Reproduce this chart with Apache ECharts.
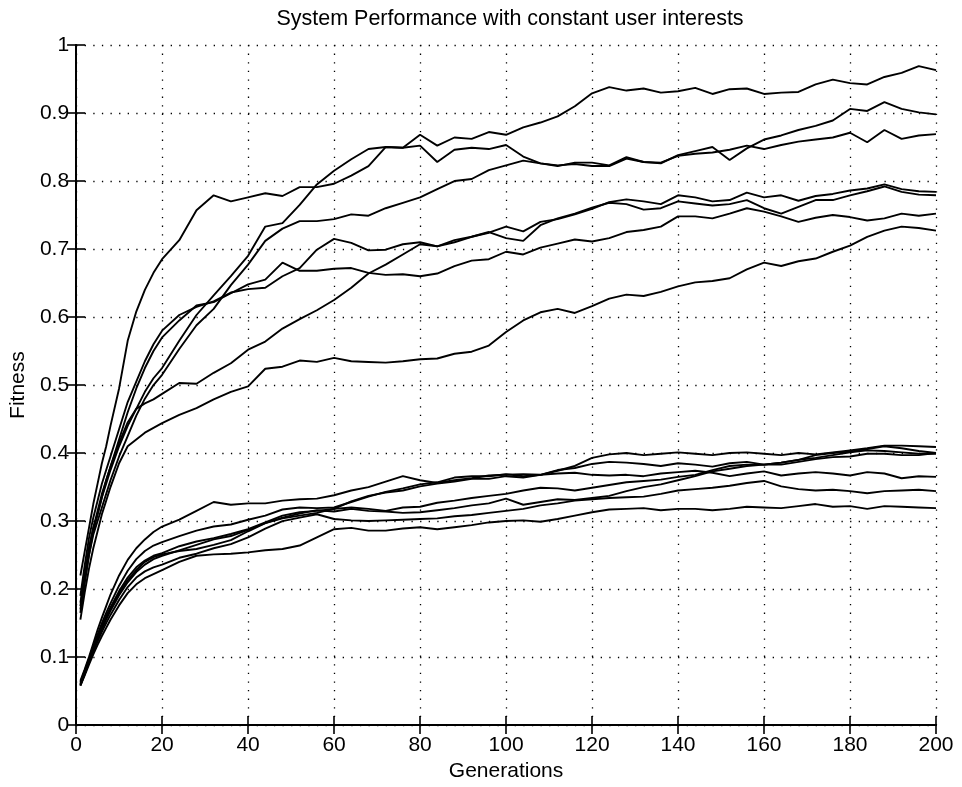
<!DOCTYPE html>
<html>
<head>
<meta charset="utf-8">
<script src="https://cdn.jsdelivr.net/npm/echarts@6/dist/echarts.min.js"></script>
<style>
html,body{margin:0;padding:0;background:#fff;}
#chart{width:962px;height:787px;}
</style>
</head>
<body>
<div id="chart"></div>
<script>
// Generations sampled along the x axis
var gens = [1,2,3,4,5,6,7,8,10,12,14,16,18,
  20,24,28,32,36,40,44,48,52,56,
  60,64,68,72,76,80,84,88,92,96,
  100,104,108,112,116,120,124,128,132,136,
  140,144,148,152,156,160,164,168,172,176,
  180,184,188,192,196,200];

// Upper group of runs
var runA = [0.22,0.255,0.29,0.325,0.355,0.385,0.41,0.44,0.495,0.565,0.608,0.64,0.665,
  0.685,0.713,0.757,0.779,0.77,0.776,0.782,0.778,0.791,0.791,
  0.796,0.808,0.822,0.85,0.849,0.852,0.828,0.846,0.849,0.847,
  0.853,0.836,0.826,0.822,0.827,0.827,0.823,0.835,0.828,0.826,
  0.838,0.844,0.85,0.831,0.848,0.861,0.867,0.875,0.881,0.889,
  0.906,0.903,0.916,0.906,0.901,0.898];
var runT = [0.18,0.22,0.26,0.29,0.31,0.335,0.355,0.375,0.41,0.44,0.465,0.49,0.51,
  0.525,0.565,0.603,0.632,0.66,0.69,0.733,0.738,0.765,0.795,
  0.815,0.832,0.847,0.85,0.849,0.868,0.852,0.864,0.862,0.872,
  0.868,0.879,0.886,0.895,0.91,0.929,0.938,0.933,0.936,0.93,
  0.932,0.937,0.928,0.935,0.936,0.928,0.93,0.931,0.942,0.949,
  0.944,0.942,0.953,0.959,0.969,0.963];
var runS3 = [0.17,0.21,0.25,0.28,0.3,0.32,0.34,0.36,0.395,0.425,0.455,0.48,0.5,
  0.515,0.553,0.588,0.612,0.647,0.677,0.712,0.73,0.741,0.741,
  0.744,0.751,0.749,0.76,0.768,0.776,0.788,0.8,0.803,0.816,
  0.823,0.83,0.826,0.823,0.825,0.822,0.822,0.833,0.828,0.827,
  0.837,0.84,0.842,0.846,0.852,0.847,0.853,0.858,0.861,0.864,
  0.871,0.857,0.875,0.862,0.867,0.869];
var runS4a = [0.19,0.235,0.275,0.305,0.33,0.355,0.375,0.395,0.435,0.475,0.505,0.535,0.56,
  0.58,0.603,0.615,0.623,0.636,0.641,0.643,0.66,0.672,0.699,
  0.715,0.709,0.698,0.699,0.707,0.71,0.704,0.71,0.718,0.724,
  0.733,0.726,0.74,0.744,0.751,0.759,0.769,0.773,0.77,0.766,
  0.779,0.776,0.77,0.772,0.783,0.776,0.779,0.771,0.778,0.781,
  0.786,0.789,0.795,0.788,0.785,0.784];
var runS4b = [0.175,0.22,0.26,0.29,0.315,0.34,0.36,0.38,0.42,0.46,0.495,0.525,0.55,
  0.57,0.595,0.617,0.622,0.635,0.648,0.655,0.68,0.668,0.668,
  0.671,0.672,0.665,0.662,0.663,0.66,0.664,0.675,0.683,0.685,
  0.696,0.692,0.702,0.708,0.714,0.711,0.716,0.725,0.728,0.733,
  0.748,0.748,0.745,0.752,0.76,0.755,0.748,0.74,0.746,0.75,
  0.747,0.742,0.745,0.752,0.749,0.752];
var runS5 = [0.165,0.21,0.25,0.285,0.31,0.335,0.36,0.38,0.415,0.445,0.465,0.473,0.479,
  0.487,0.503,0.502,0.518,0.532,0.552,0.564,0.583,0.597,0.61,
  0.625,0.643,0.664,0.677,0.692,0.707,0.704,0.713,0.718,0.725,
  0.716,0.712,0.735,0.745,0.752,0.761,0.768,0.766,0.758,0.76,
  0.77,0.767,0.764,0.766,0.772,0.76,0.752,0.762,0.772,0.772,
  0.779,0.785,0.792,0.784,0.78,0.779];
var runF = [0.155,0.195,0.23,0.26,0.285,0.31,0.33,0.35,0.385,0.41,0.42,0.43,0.437,
  0.444,0.456,0.466,0.479,0.49,0.498,0.524,0.527,0.536,0.534,
  0.54,0.535,0.534,0.533,0.535,0.538,0.539,0.546,0.549,0.558,
  0.578,0.595,0.607,0.612,0.606,0.616,0.627,0.633,0.631,0.637,
  0.645,0.651,0.653,0.657,0.67,0.68,0.675,0.682,0.686,0.696,
  0.705,0.718,0.727,0.733,0.731,0.727];

// Lower group of runs
var runL1 = [0.065,0.082,0.1,0.12,0.14,0.158,0.175,0.192,0.22,0.243,0.26,0.273,0.284,
  0.292,0.302,0.315,0.328,0.324,0.326,0.326,0.33,0.332,0.333,
  0.338,0.345,0.35,0.358,0.366,0.36,0.356,0.36,0.363,0.367,
  0.368,0.369,0.368,0.374,0.381,0.393,0.398,0.4,0.397,0.399,
  0.401,0.399,0.397,0.4,0.401,0.399,0.397,0.4,0.398,0.401,
  0.404,0.407,0.411,0.411,0.41,0.409];
var runL2 = [0.063,0.08,0.098,0.116,0.133,0.15,0.165,0.179,0.205,0.227,0.244,0.256,0.264,
  0.269,0.278,0.286,0.292,0.295,0.302,0.308,0.317,0.32,0.319,
  0.32,0.328,0.336,0.343,0.348,0.354,0.357,0.364,0.366,0.366,
  0.369,0.366,0.368,0.37,0.371,0.368,0.367,0.368,0.366,0.37,
  0.372,0.374,0.371,0.366,0.37,0.373,0.367,0.37,0.372,0.37,
  0.367,0.372,0.37,0.363,0.366,0.365];
var runLa = [0.06,0.077,0.095,0.113,0.13,0.146,0.16,0.173,0.197,0.217,0.232,0.242,0.249,
  0.253,0.263,0.27,0.275,0.281,0.288,0.298,0.308,0.313,0.315,
  0.318,0.32,0.318,0.315,0.32,0.321,0.327,0.33,0.334,0.337,
  0.34,0.345,0.349,0.348,0.345,0.349,0.353,0.357,0.359,0.361,
  0.365,0.368,0.375,0.381,0.383,0.383,0.386,0.39,0.393,0.397,
  0.401,0.404,0.403,0.401,0.399,0.399];
var runLb = [0.061,0.078,0.096,0.113,0.129,0.144,0.158,0.171,0.194,0.213,0.228,0.24,0.247,
  0.251,0.256,0.259,0.265,0.272,0.285,0.297,0.305,0.311,0.316,
  0.314,0.318,0.315,0.314,0.312,0.313,0.316,0.319,0.323,0.326,
  0.333,0.324,0.328,0.332,0.331,0.334,0.337,0.344,0.35,0.354,
  0.36,0.366,0.373,0.377,0.381,0.383,0.383,0.387,0.391,0.394,
  0.395,0.399,0.399,0.397,0.397,0.4];
var runLc = [0.058,0.075,0.093,0.11,0.126,0.141,0.155,0.168,0.191,0.21,0.225,0.236,0.244,
  0.249,0.257,0.265,0.273,0.278,0.287,0.297,0.304,0.308,0.312,
  0.318,0.329,0.337,0.342,0.345,0.351,0.355,0.358,0.362,0.362,
  0.366,0.364,0.368,0.375,0.378,0.384,0.387,0.386,0.384,0.381,
  0.385,0.383,0.38,0.385,0.387,0.383,0.386,0.39,0.397,0.4,
  0.402,0.406,0.41,0.407,0.403,0.4];
var runLm = [0.059,0.075,0.092,0.108,0.123,0.137,0.15,0.162,0.184,0.203,0.217,0.226,0.232,
  0.236,0.246,0.252,0.26,0.266,0.276,0.289,0.3,0.305,0.31,
  0.303,0.301,0.3,0.301,0.302,0.303,0.304,0.307,0.309,0.312,
  0.315,0.318,0.323,0.326,0.33,0.332,0.334,0.335,0.336,0.34,
  0.345,0.347,0.349,0.352,0.356,0.359,0.351,0.347,0.345,0.346,
  0.344,0.341,0.344,0.345,0.346,0.344];
var runL7 = [0.058,0.073,0.089,0.104,0.118,0.131,0.143,0.155,0.176,0.194,0.207,0.216,0.222,
  0.228,0.24,0.249,0.251,0.252,0.254,0.257,0.259,0.264,0.276,
  0.288,0.29,0.286,0.286,0.289,0.291,0.288,0.291,0.294,0.298,
  0.3,0.301,0.299,0.303,0.308,0.313,0.317,0.318,0.319,0.316,
  0.318,0.318,0.316,0.318,0.321,0.32,0.319,0.322,0.325,0.321,
  0.322,0.318,0.322,0.321,0.32,0.319];

var xTicks = {min: 0, max: 200, interval: 20};
var yTicks = {min: 0, max: 1, interval: 0.1};
var titleText = 'System Performance with constant user interests';
var xName = 'Generations';
var yName = 'Fitness';

var runs = [runA, runT, runS3, runS4a, runS4b, runS5, runF,
            runL1, runL2, runLa, runLb, runLc, runLm, runL7];

var FONT = "'Liberation Sans', Arial, Helvetica, sans-serif";
var chart = echarts.init(document.getElementById('chart'), null, {renderer: 'canvas'});

var gridLine = {show: true, lineStyle: {color: '#000', width: 1.3, type: [1.3, 7.3]}};
var axisLine = {show: true, lineStyle: {color: '#000', width: 2}};
var tick = {show: true, inside: true, length: 9, lineStyle: {color: '#000', width: 1.6}};

var option = {
  animation: false,
  backgroundColor: '#fff',
  title: {
    text: titleText,
    left: 505, top: 3, textAlign: 'center',
    textStyle: {fontFamily: FONT, fontSize: 21.5, fontWeight: 'normal', color: '#000'}
  },
  grid: {left: 75, right: 26, top: 45, bottom: 57},
  xAxis: [{
    type: 'value', position: 'bottom',
    min: xTicks.min, max: xTicks.max, interval: xTicks.interval,
    name: xName, nameLocation: 'middle', nameGap: 32,
    nameTextStyle: {fontFamily: FONT, fontSize: 21, color: '#000'},
    axisLine: axisLine, axisTick: tick, splitLine: gridLine,
    axisLabel: {fontFamily: FONT, fontSize: 21, color: '#000', margin: 10}
  }, {
    type: 'value', position: 'top',
    min: xTicks.min, max: xTicks.max, interval: xTicks.interval,
    axisLine: axisLine, axisTick: tick, splitLine: {show: false},
    axisLabel: {show: false}
  }],
  yAxis: [{
    type: 'value', position: 'left',
    min: yTicks.min, max: yTicks.max, interval: yTicks.interval,
    name: yName, nameLocation: 'middle', nameGap: 44, nameRotate: 90,
    nameTextStyle: {fontFamily: FONT, fontSize: 21, color: '#000'},
    axisLine: axisLine, axisTick: tick, splitLine: gridLine,
    axisLabel: {fontFamily: FONT, fontSize: 21, color: '#000', margin: 7}
  }, {
    type: 'value', position: 'right',
    min: yTicks.min, max: yTicks.max, interval: yTicks.interval,
    axisLine: axisLine, axisTick: tick, splitLine: {show: false},
    axisLabel: {show: false}
  }],
  series: runs.map(function (vals, k) {
    return {
      type: 'line', name: 'run' + (k + 1),
      xAxisIndex: 0, yAxisIndex: 0,
      showSymbol: false, symbol: 'none',
      lineStyle: {color: '#000', width: 1.9},
      data: gens.map(function (g, i) { return [g, vals[i]]; })
    };
  })
};
chart.setOption(option);
</script>
</body>
</html>
